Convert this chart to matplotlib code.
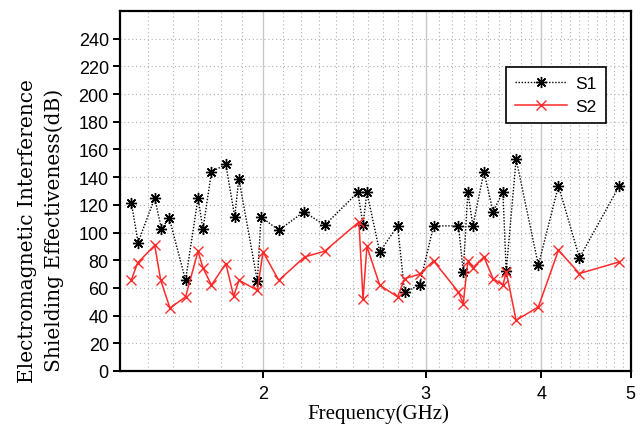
import matplotlib
matplotlib.use("Agg")
import matplotlib.pyplot as plt
from matplotlib.ticker import FixedLocator, NullFormatter

# ---- data ----
s1_freq = [1.441, 1.465, 1.527, 1.553, 1.583, 1.649, 1.701, 1.722, 1.759, 1.823,
           1.864, 1.883, 1.972, 1.99, 2.080, 2.215, 2.332, 2.533, 2.566, 2.591,
           2.675, 2.797, 2.846, 2.954, 3.059, 3.255, 3.294, 3.332, 3.374, 3.468,
           3.548, 3.636, 3.666, 3.758, 3.972, 4.176, 4.400, 4.861]
s1_se = [121, 92.8, 125, 102.4, 110.8, 65.5, 125, 102.4, 143.9, 149.2,
         111.3, 139, 65, 111.3, 101.7, 115, 105.3, 129, 105.8, 129,
         86, 104.8, 57, 62, 104.8, 104.8, 71.6, 129.4, 104.8, 143.9,
         115, 129.4, 72, 153, 76.4, 133.8, 81.7, 133.8]

s2_freq = [1.441, 1.463, 1.527, 1.550, 1.586, 1.649, 1.701, 1.722, 1.759, 1.823,
           1.859, 1.884, 1.972, 2.0, 2.080, 2.219, 2.332, 2.540, 2.566, 2.591,
           2.675, 2.797, 2.846, 2.954, 3.059, 3.255, 3.294, 3.332, 3.374, 3.468,
           3.548, 3.636, 3.666, 3.758, 3.972, 4.176, 4.400, 4.861]
s2_se = [66, 78, 90.8, 65.5, 45.5, 53.5, 86.5, 74.5, 62, 77.6,
         54, 65.5, 58.3, 86, 65.5, 82.4, 86.5, 107.7, 51.8, 90,
         62, 53.5, 66.7, 69.9, 79.5, 57, 48.7, 79.3, 74.5, 82.4,
         66.7, 62, 71.6, 36.6, 46.3, 87.2, 70.4, 78.8]

x_ticks = [2, 3, 4, 5]
x_tick_labels = ["2", "3", "4", "5"]
y_ticks = list(range(0, 241, 20))

# ---- figure ----
fig = plt.figure(figsize=(6.41, 4.31), dpi=100)
ax = fig.add_axes([0.187, 0.137, 0.797, 0.835])

ax.set_xscale("log")
ax.set_xlim(1.4, 5.0)
ax.set_ylim(0, 260)

# grid
minor_x = [1.5, 1.6, 1.7, 1.8, 1.9] + [2 + 0.1 * i for i in range(1, 10)] + \
          [3 + 0.1 * i for i in range(1, 10)] + [4 + 0.1 * i for i in range(1, 10)]
ax.xaxis.set_major_locator(FixedLocator(x_ticks))
ax.xaxis.set_minor_locator(FixedLocator(minor_x))
ax.xaxis.set_minor_formatter(NullFormatter())
ax.set_xticklabels(x_tick_labels)
ax.yaxis.set_major_locator(FixedLocator(y_ticks))

ax.grid(True, which="major", axis="x", color="#c8c8c8", linestyle="-", linewidth=1.0)
ax.grid(True, which="minor", axis="x", color="#b0b0b0", linestyle=(0, (1, 2.5)), linewidth=0.8)
ax.grid(True, which="major", axis="y", color="#b0b0b0", linestyle=(0, (1, 2.5)), linewidth=0.8)
ax.set_axisbelow(True)

l1, = ax.plot(s1_freq, s1_se, color="black", linestyle=(0, (1, 1.2)), linewidth=1.0,
              marker=(8, 2, 0), markersize=8, markeredgewidth=1.0, label="S1")
l2, = ax.plot(s2_freq, s2_se, color="#ff2a2a", linestyle="-", linewidth=1.1,
              marker="x", markersize=7.5, markeredgewidth=1.0, label="S2")

# spines & ticks
for sp in ax.spines.values():
    sp.set_linewidth(1.6)
ax.tick_params(axis="both", which="major", direction="out", length=5, width=1.4,
               labelsize=13, top=False, right=False)
ax.tick_params(axis="x", which="minor", length=0)
ax.tick_params(axis="x", pad=5)
ax.tick_params(axis="y", pad=3)
for lab in ax.get_xticklabels() + ax.get_yticklabels():
    lab.set_fontfamily("Liberation Sans")

leg = ax.legend(handles=[l1, l2], loc="upper right", bbox_to_anchor=(0.951, 0.844),
                borderaxespad=0, frameon=True, fancybox=False, edgecolor="black",
                framealpha=1, prop={"family": "Liberation Sans", "size": 12.5},
                handlelength=3.0, handletextpad=0.5, borderpad=0.5,
                labelspacing=0.45)
leg.get_frame().set_linewidth(1.2)

fig.text(0.59, 0.038, "Frequency(GHz)", ha="center", va="center",
         family="Liberation Serif", fontsize=15)
fig.text(0.064, 0.465, "Electromagnetic Interference\nShielding Effectiveness(dB)",
         ha="center", va="center", rotation=90, multialignment="center",
         family="DejaVu Serif", fontsize=14.5, linespacing=1.5)

fig.savefig("out.png", dpi=100)
